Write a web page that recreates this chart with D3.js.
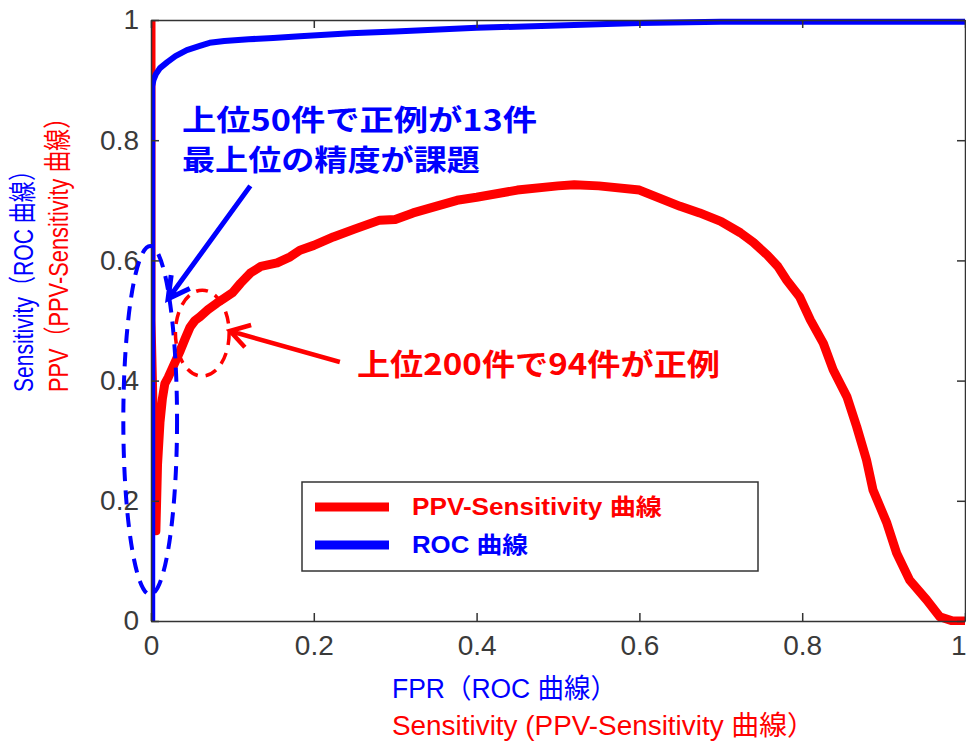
<!DOCTYPE html>
<html>
<head>
<meta charset="utf-8">
<script src="https://cdn.jsdelivr.net/npm/d3@7"></script>
<style>
  html, body { margin: 0; padding: 0; background: #fff; }
  svg { display: block; }
</style>
</head>
<body>
<script>
// ROC curve: false positive rate vs. sensitivity
const rocFpr = [0.0015, 0.0015, 0.003, 0.006, 0.011, 0.02, 0.03, 0.044, 0.06, 0.072, 0.09, 0.12, 0.15, 0.183, 0.245, 0.3, 0.4, 0.5, 0.6, 0.7, 0.8, 0.9, 1];
const rocTpr = [0, 0.89, 0.9, 0.91, 0.92, 0.93, 0.94, 0.95, 0.957, 0.962, 0.965, 0.968, 0.97, 0.973, 0.978, 0.981, 0.987, 0.991, 0.995, 0.997, 0.997, 0.997, 0.997];

// PPV-Sensitivity curve: sensitivity vs. positive predictive value
const ppvSens = [0, 0, 0.006, 0.008, 0.011, 0.014, 0.017, 0.021, 0.026, 0.031, 0.036, 0.042, 0.048, 0.054, 0.06, 0.07, 0.081, 0.09, 0.1, 0.11, 0.122, 0.135, 0.155, 0.171, 0.183, 0.2, 0.224, 0.25, 0.281, 0.3, 0.322, 0.35, 0.376, 0.4, 0.45, 0.5, 0.52, 0.55, 0.6, 0.65, 0.674, 0.7, 0.724, 0.74, 0.757, 0.77, 0.781, 0.797, 0.81, 0.826, 0.838, 0.855, 0.867, 0.879, 0.887, 0.904, 0.916, 0.932, 0.953, 0.969, 0.985, 1];
const ppvVal  = [1, 0.5, 0.15, 0.26, 0.33, 0.37, 0.395, 0.405, 0.42, 0.435, 0.45, 0.47, 0.489, 0.5, 0.506, 0.518, 0.529, 0.537, 0.546, 0.562, 0.579, 0.59, 0.596, 0.606, 0.617, 0.625, 0.639, 0.652, 0.667, 0.668, 0.679, 0.69, 0.7, 0.705, 0.717, 0.724, 0.726, 0.724, 0.717, 0.69, 0.679, 0.665, 0.646, 0.63, 0.609, 0.59, 0.567, 0.539, 0.501, 0.462, 0.418, 0.373, 0.323, 0.268, 0.218, 0.163, 0.113, 0.068, 0.035, 0.007, 0, 0];

const tickValues = [0, 0.2, 0.4, 0.6, 0.8, 1];
const tickLabels = ["0", "0.2", "0.4", "0.6", "0.8", "1"];

const seriesNames = ["PPV-Sensitivity 曲線", "ROC 曲線"];
const seriesColors = ["#ff0000", "#0000ff"];

const W = 966, H = 745;
const svg = d3.select("body").append("svg").attr("width", W).attr("height", H);

const x = d3.scaleLinear().domain([0, 1]).range([151, 965]);
const y = d3.scaleLinear().domain([0, 1]).range([621, 20]);

const axisColor = "#333";
const tickFont = "'Liberation Sans', Arial, sans-serif";

// plot-area clip so thick strokes stop at the axes
svg.append("defs").append("clipPath").attr("id", "plot-clip")
  .append("rect").attr("x", x(0)).attr("y", y(1) - 4)
  .attr("width", x(1) - x(0) + 4).attr("height", y(0) - y(1) + 8);

// curves
const line = d3.line().x(d => x(d[0])).y(d => y(d[1]));
const ppvPts = ppvSens.map((s, i) => [s, ppvVal[i]]);
const rocPts = rocFpr.map((f, i) => [f, rocTpr[i]]);

const plot = svg.append("g").attr("clip-path", "url(#plot-clip)");
plot.append("path").datum(ppvPts).attr("d", line)
  .attr("fill", "none").attr("stroke", seriesColors[0]).attr("stroke-width", 9)
  .attr("stroke-linejoin", "round");
plot.append("path").datum(rocPts).attr("d", line)
  .attr("fill", "none").attr("stroke", seriesColors[1]).attr("stroke-width", 6)
  .attr("stroke-linejoin", "round");

// axis box with inward ticks on all four sides
const fmt = (d) => tickLabels[tickValues.indexOf(d)];
function styleAxis(g) {
  g.select(".domain").attr("stroke", axisColor).attr("stroke-width", 1.5);
  g.selectAll(".tick line").attr("stroke", axisColor).attr("stroke-width", 1.5);
  g.selectAll(".tick text").attr("fill", "#3a3a3a").attr("font-family", tickFont).attr("font-size", 28);
}
const xAxisG = svg.append("g").attr("transform", `translate(0,${y(0)})`)
  .call(d3.axisBottom(x).tickValues(tickValues).tickFormat(fmt).tickSizeInner(-8).tickSizeOuter(0).tickPadding(14))
  .call(styleAxis);
// keep the last x label inside the page edge
xAxisG.selectAll(".tick text").filter(d => d === 1).attr("text-anchor", "end").attr("dx", 1);
svg.append("g").attr("transform", `translate(${x(0)},0)`)
  .call(d3.axisLeft(y).tickValues(tickValues).tickFormat(fmt).tickSizeInner(-8).tickSizeOuter(0).tickPadding(12))
  .call(styleAxis);
svg.append("g").attr("transform", `translate(0,${y(1)})`)
  .call(d3.axisTop(x).tickValues(tickValues).tickFormat("").tickSizeInner(-8).tickSizeOuter(0))
  .call(styleAxis);
svg.append("g").attr("transform", `translate(${x(1)},0)`)
  .call(d3.axisRight(y).tickValues(tickValues).tickFormat("").tickSizeInner(-8).tickSizeOuter(0))
  .call(styleAxis);

// axis titles
const labelFont = "'Liberation Sans', Arial, 'Noto Sans CJK JP', sans-serif";
function fitText(sel, len) {
  sel.attr("textLength", len).attr("lengthAdjust", "spacingAndGlyphs");
}
svg.append("text").attr("x", 392).attr("y", 698)
  .attr("font-family", labelFont).attr("font-size", 27).attr("fill", "#0000ff")
  .text("FPR（ROC 曲線）").call(fitText, 225);
svg.append("text").attr("x", 392).attr("y", 735)
  .attr("font-family", labelFont).attr("font-size", 27).attr("fill", "#ff0000")
  .text("Sensitivity (PPV-Sensitivity 曲線）").call(fitText, 423);

svg.append("text").attr("transform", "translate(33,392) rotate(-90)")
  .attr("font-family", labelFont).attr("font-size", 28).attr("fill", "#0000ff")
  .text("Sensitivity（ROC 曲線）").call(fitText, 232);
svg.append("text").attr("transform", "translate(68,392) rotate(-90)")
  .attr("font-family", labelFont).attr("font-size", 28).attr("fill", "#ff0000")
  .text("PPV（PPV-Sensitivity 曲線）").call(fitText, 285);

// legend
const lg = svg.append("g");
lg.append("rect").attr("x", 302).attr("y", 482).attr("width", 456).attr("height", 89)
  .attr("fill", "#fff").attr("stroke", axisColor).attr("stroke-width", 1.5);
const legendWidths = [250, 116];
seriesNames.forEach((name, i) => {
  const ly = 507 + i * 38;
  lg.append("line").attr("x1", 315).attr("x2", 389).attr("y1", ly).attr("y2", ly)
    .attr("stroke", seriesColors[i]).attr("stroke-width", 9);
  lg.append("text").attr("x", 412).attr("y", ly + 8)
    .attr("font-family", labelFont).attr("font-weight", "bold").attr("font-size", 23)
    .attr("fill", seriesColors[i]).text(name).call(fitText, legendWidths[i]);
});

// annotations
const noteFont = "'Noto Sans CJK JP', sans-serif";

// dashed ellipses around the top-ranked region of each curve
svg.append("ellipse")
  .attr("cx", x(-0.001)).attr("cy", y(0.334))
  .attr("rx", x(0.033) - x(0)).attr("ry", y(0) - y(0.29))
  .attr("fill", "none").attr("stroke", "#0000ff").attr("stroke-width", 4)
  .attr("stroke-dasharray", "14 9");
svg.append("ellipse")
  .attr("cx", x(0.063)).attr("cy", y(0.479))
  .attr("rx", x(0.033) - x(0)).attr("ry", y(0) - y(0.0715))
  .attr("fill", "none").attr("stroke", "#ff0000").attr("stroke-width", 3.5)
  .attr("stroke-dasharray", "12 8");

// arrows with open heads
function arrow(from, to, color, width, head, spread) {
  const x1 = x(from[0]), y1 = y(from[1]), x2 = x(to[0]), y2 = y(to[1]);
  const ang = Math.atan2(y1 - y2, x1 - x2);
  const a1 = ang + spread, a2 = ang - spread;
  const p = d3.path();
  p.moveTo(x1, y1); p.lineTo(x2, y2);
  p.moveTo(x2 + head * Math.cos(a1), y2 + head * Math.sin(a1));
  p.lineTo(x2, y2);
  p.lineTo(x2 + head * Math.cos(a2), y2 + head * Math.sin(a2));
  svg.append("path").attr("d", p.toString()).attr("fill", "none")
    .attr("stroke", color).attr("stroke-width", width)
    .attr("stroke-linejoin", "miter").attr("stroke-linecap", "butt");
}
arrow([0.122, 0.724], [0.021, 0.536], "#0000ff", 5, 24, 0.5);
arrow([0.232, 0.431], [0.097, 0.4825], "#ff0000", 4.5, 22, 0.55);

svg.append("text").attr("x", x(0.038)).attr("y", y(0.815))
  .attr("font-family", noteFont).attr("font-weight", "bold").attr("font-size", 29)
  .attr("fill", "#0000ff").text("上位50件で正例が13件").call(fitText, 355);
svg.append("text").attr("x", x(0.038)).attr("y", y(0.749))
  .attr("font-family", noteFont).attr("font-weight", "bold").attr("font-size", 29)
  .attr("fill", "#0000ff").text("最上位の精度が課題").call(fitText, 298);
svg.append("text").attr("x", x(0.253)).attr("y", y(0.409))
  .attr("font-family", noteFont).attr("font-weight", "bold").attr("font-size", 30)
  .attr("fill", "#ff0000").text("上位200件で94件が正例").call(fitText, 363);
</script>
</body>
</html>
